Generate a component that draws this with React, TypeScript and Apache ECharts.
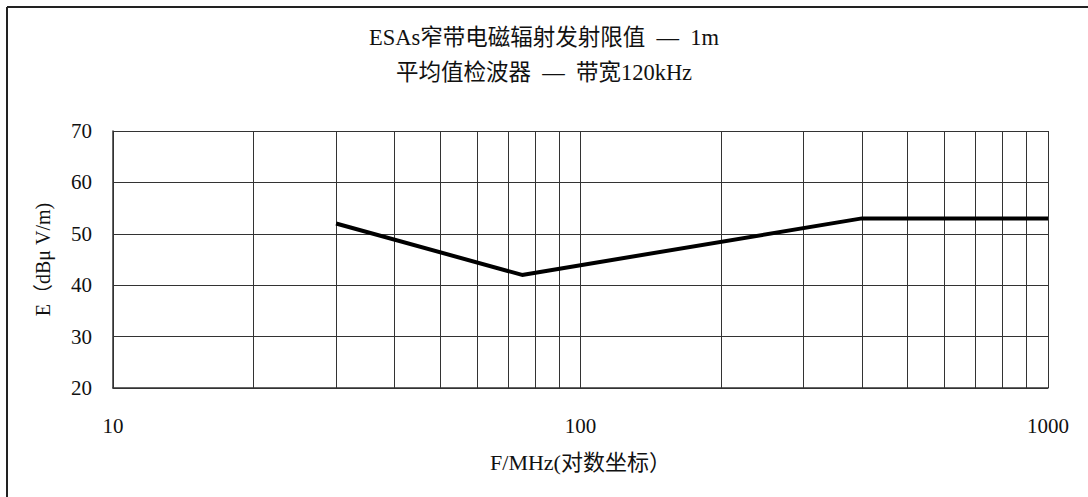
import React, { useEffect, useRef } from "react";
import * as echarts from "echarts";

// Narrowband ESA emission limit (1 m, average detector)
const limitFreqMHz = [30, 75, 400, 1000];
const limitLevelDb = [52, 42, 53, 53];

// Logarithmic minor grid lines inside each decade
const minorGridFreqMHz = [20, 30, 40, 50, 60, 70, 80, 90, 200, 300, 400, 500, 600, 700, 800, 900];

const yMin = 20;
const yMax = 70;
const yStep = 10;

const titleText =
  "ESAs窄带电磁辐射发射限值\u2002—\u20021m\n平均值检波器\u2002—\u2002带宽120kHz";
const xAxisName = "F/MHz(对数坐标）";
const yAxisName = "E（dBμ V/m)";

const SERIF = "'Liberation Serif', 'Noto Sans CJK SC', serif";
const INK = "#111";
const GRID = "#333";

export default function App() {
  const ref = useRef<HTMLDivElement>(null);

  useEffect(() => {
    if (!ref.current) return;
    const chart = echarts.init(ref.current, undefined, { renderer: "svg" });

    const points = limitFreqMHz.map((f, i) => [f, limitLevelDb[i]]);

    chart.setOption({
      animation: false,
      backgroundColor: "#fff",
      title: {
        text: titleText,
        left: "center",
        top: 20,
        padding: 0,
        textStyle: {
          fontFamily: SERIF,
          fontSize: 22.5,
          fontWeight: "normal",
          color: INK,
          lineHeight: 35,
        },
      },
      graphic: [
        {
          type: "line",
          shape: { x1: 7, y1: 7, x2: 1088, y2: 7 },
          style: { stroke: "#222", lineWidth: 2 },
          silent: true,
        },
        {
          type: "line",
          shape: { x1: 7, y1: 7, x2: 7, y2: 497 },
          style: { stroke: "#222", lineWidth: 2 },
          silent: true,
        },
      ],
      grid: { left: 113, right: 40, top: 131, bottom: 109 },
      xAxis: {
        type: "log",
        logBase: 10,
        min: 10,
        max: 1000,
        name: xAxisName,
        nameLocation: "middle",
        nameGap: 63,
        nameTextStyle: { fontFamily: SERIF, fontSize: 22, color: INK },
        axisLine: { show: true, lineStyle: { color: GRID, width: 1.5 } },
        axisTick: { show: false },
        axisLabel: {
          fontFamily: SERIF,
          fontSize: 21,
          color: INK,
          margin: 27,
          formatter: (v: number) => String(Math.round(v)),
        },
        splitLine: { show: true, lineStyle: { color: GRID, width: 1 } },
      },
      yAxis: {
        type: "value",
        min: yMin,
        max: yMax,
        interval: yStep,
        name: yAxisName,
        nameLocation: "middle",
        nameRotate: 90,
        nameGap: 60,
        nameTextStyle: { fontFamily: SERIF, fontSize: 20, color: INK },
        axisLine: { show: true, lineStyle: { color: GRID, width: 1.5 } },
        axisTick: { show: false },
        axisLabel: { fontFamily: SERIF, fontSize: 21, color: INK, margin: 21 },
        splitLine: { show: true, lineStyle: { color: GRID, width: 1 } },
      },
      series: [
        {
          type: "line",
          data: points,
          symbol: "none",
          lineStyle: { color: "#000", width: 4 },
          z: 5,
          markLine: {
            silent: true,
            symbol: "none",
            label: { show: false },
            lineStyle: { color: GRID, width: 1, type: "solid" },
            data: minorGridFreqMHz.map((f) => ({ xAxis: f })),
            z: 1,
          },
        },
      ],
    });

    return () => chart.dispose();
  }, []);

  return (
    <div
      ref={ref}
      style={{ position: "absolute", left: 0, top: 0, width: 1088, height: 497 }}
    />
  );
}
